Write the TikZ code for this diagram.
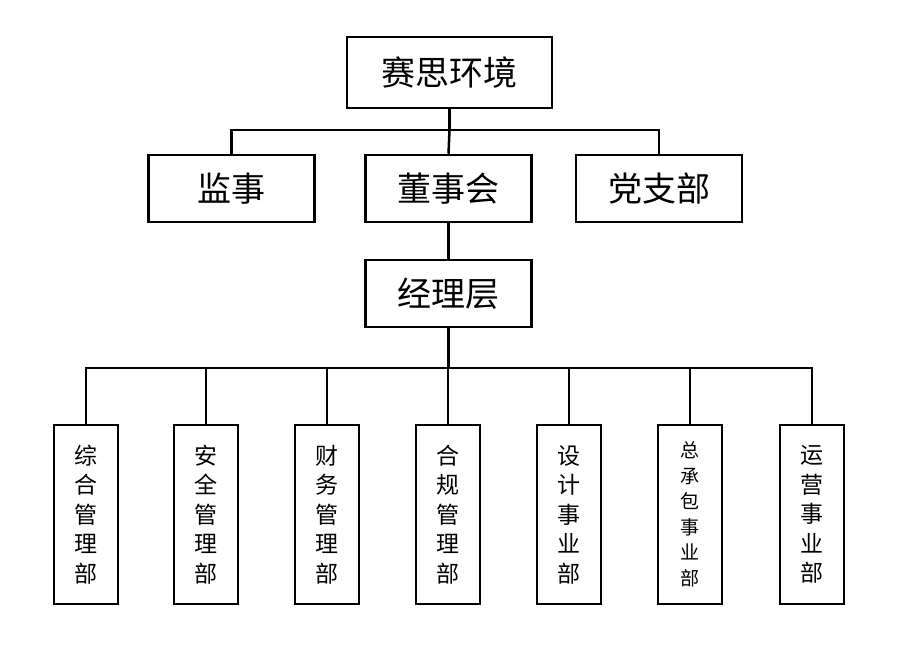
\documentclass[tikz,border=0pt]{standalone}
\usepackage{fontspec}
\setmainfont{Noto Sans CJK SC}
\begin{document}
\begin{tikzpicture}[x=1pt,y=-1pt,
  box/.style={draw,line width=2.5pt,inner sep=0pt,anchor=center},
  big/.style={box,minimum width=166pt,minimum height=67pt,font=\fontsize{34}{38}\selectfont},
  dep/.style={box,minimum width=64pt,minimum height=179pt,align=center,font=\fontsize{23}{29.5}\selectfont},
  ln/.style={line width=2.5pt}]
\useasboundingbox (0,0) rectangle (900,665);
\node[big,minimum width=205pt,minimum height=71pt] (top) at (449.5,72.5) {赛思环境};
\node[big] (js) at (231.5,188.5) {监事};
\node[big] (dsh) at (448.5,188.5) {董事会};
\node[big] (dzb) at (659,188.5) {党支部};
\node[big] (jlc) at (448.5,293.5) {经理层};
\node[dep] (d1) at (86,514.5) {综\\合\\管\\理\\部};
\node[dep] (d2) at (206,514.5) {安\\全\\管\\理\\部};
\node[dep] (d3) at (327,514.5) {财\\务\\管\\理\\部};
\node[dep] (d4) at (448,514.5) {合\\规\\管\\理\\部};
\node[dep] (d5) at (569,514.5) {设\\计\\事\\业\\部};
\node[dep,font=\fontsize{19}{25.5}\selectfont] (d6) at (690,514.5) {总\\承\\包\\事\\业\\部};
\node[dep] (d7) at (812,514.5) {运\\营\\事\\业\\部};
\coordinate (h1) at (449.5,130);
\draw[ln] (top.south) -- (h1);
\draw[ln] (js.north) |- (h1) -| (dzb.north);
\draw[ln] (h1) -- (dsh.north);
\draw[ln] (dsh.south) -- (jlc.north);
\coordinate (h2) at (448.5,368);
\draw[ln] (jlc.south) -- (h2);
\draw[ln] (d1.north) |- (h2) -| (d7.north);
\foreach \d in {d2,d3,d4,d5,d6} \draw[ln] (\d.north) -- (\d.north |- h2);
\end{tikzpicture}
\end{document}
